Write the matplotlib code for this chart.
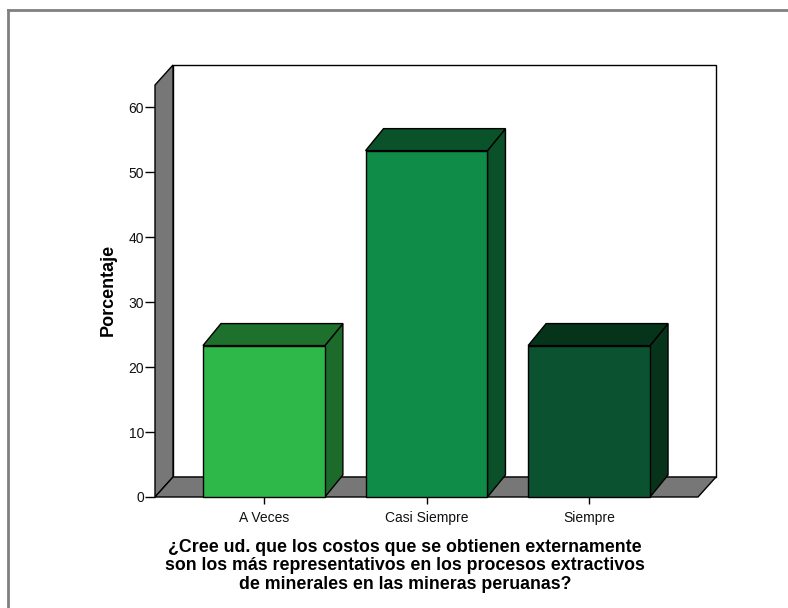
import matplotlib
matplotlib.use("Agg")
import matplotlib.pyplot as plt
from matplotlib.lines import Line2D

plt.rcParams["font.family"] = ["Liberation Sans", "DejaVu Sans"]

categories = ["A Veces", "Casi Siempre", "Siempre"]
percent = [23.3, 53.3, 23.3]
yticks = [0, 10, 20, 30, 40, 50, 60]
xlabel = ("¿Cree ud. que los costos que se obtienen externamente\n"
          "son los más representativos en los procesos extractivos\n"
          "de minerales en las mineras peruanas?")
ylabel = "Porcentaje"

front_colors = ["#2fb84a", "#0f8c48", "#0b5330"]
top_colors = ["#1e702d", "#0a5229", "#06341b"]
side_colors = ["#1d6b2b", "#0a5028", "#06331a"]

W, H = 788, 608
fig = plt.figure(figsize=(W / 100, H / 100), dpi=100)

# outer frame (top and left edges)
fig.add_artist(Line2D([8 / W, 1], [1 - 10 / H, 1 - 10 / H], color="#808080", lw=2,
                      transform=fig.transFigure))
fig.add_artist(Line2D([8 / W, 8 / W], [0, 1 - 10 / H], color="#808080", lw=2,
                      transform=fig.transFigure))

x0, x1 = 155, 698
y0, y1 = 497, 85
ax = fig.add_axes([x0 / W, 1 - y0 / H, (x1 - x0) / W, (y0 - y1) / H])
xmin, xmax = -0.67, 2.67
ymax = 63.4
ax.set_xlim(xmin, xmax)
ax.set_ylim(0, ymax)
for s in ax.spines.values():
    s.set_visible(False)

dx = 18 / ((x1 - x0) / (xmax - xmin))
dy = 20 / ((y0 - y1) / ymax)
bdy = 22 / ((y0 - y1) / ymax)

ec = "#000000"
lw = 1.0
# back wall
ax.fill([xmin + dx, xmax + dx, xmax + dx, xmin + dx],
        [dy, dy, ymax + dy, ymax + dy], facecolor="white", edgecolor=ec, lw=lw,
        clip_on=False, zorder=1)
# left wall
ax.fill([xmin, xmin, xmin + dx, xmin + dx], [0, ymax, ymax + dy, dy],
        facecolor="#777777", edgecolor=ec, lw=lw, clip_on=False, zorder=2)
# floor
ax.fill([xmin, xmax, xmax + dx, xmin + dx], [0, 0, dy, dy],
        facecolor="#777777", edgecolor=ec, lw=lw, clip_on=False, zorder=2)

bw = 0.75
for i, v in enumerate(percent):
    l, r = i - bw / 2, i + bw / 2
    ax.fill([r, r + dx, r + dx, r], [0, bdy, v + bdy, v], facecolor=side_colors[i],
            edgecolor=ec, lw=lw, clip_on=False, zorder=3)
    ax.fill([l, r, r + dx, l + dx], [v, v, v + bdy, v + bdy], facecolor=top_colors[i],
            edgecolor=ec, lw=lw, clip_on=False, zorder=3)
    ax.fill([l, r, r, l], [0, 0, v, v], facecolor=front_colors[i],
            edgecolor=ec, lw=lw, clip_on=False, zorder=4)

ax.set_yticks(yticks)
ax.set_yticklabels([str(t) for t in yticks])
ax.set_xticks(range(len(categories)))
ax.set_xticklabels(categories)
ax.tick_params(axis="y", labelsize=10, length=7, width=1, color="black",
               direction="out", pad=1, labelcolor="#111111")
ax.tick_params(axis="x", labelsize=10, length=5, width=1, color="black",
               direction="out", pad=5, labelcolor="#111111")

fig.text(108 / W, 1 - 290 / H, ylabel, rotation=90, fontsize=13,
         fontweight="bold", ha="center", va="center")
fig.text(405 / W, 1 - 566 / H, xlabel, fontsize=12.8, fontweight="bold",
         ha="center", va="center", multialignment="center", linespacing=1.12)

fig.savefig("out.png", dpi=100, facecolor="white")
